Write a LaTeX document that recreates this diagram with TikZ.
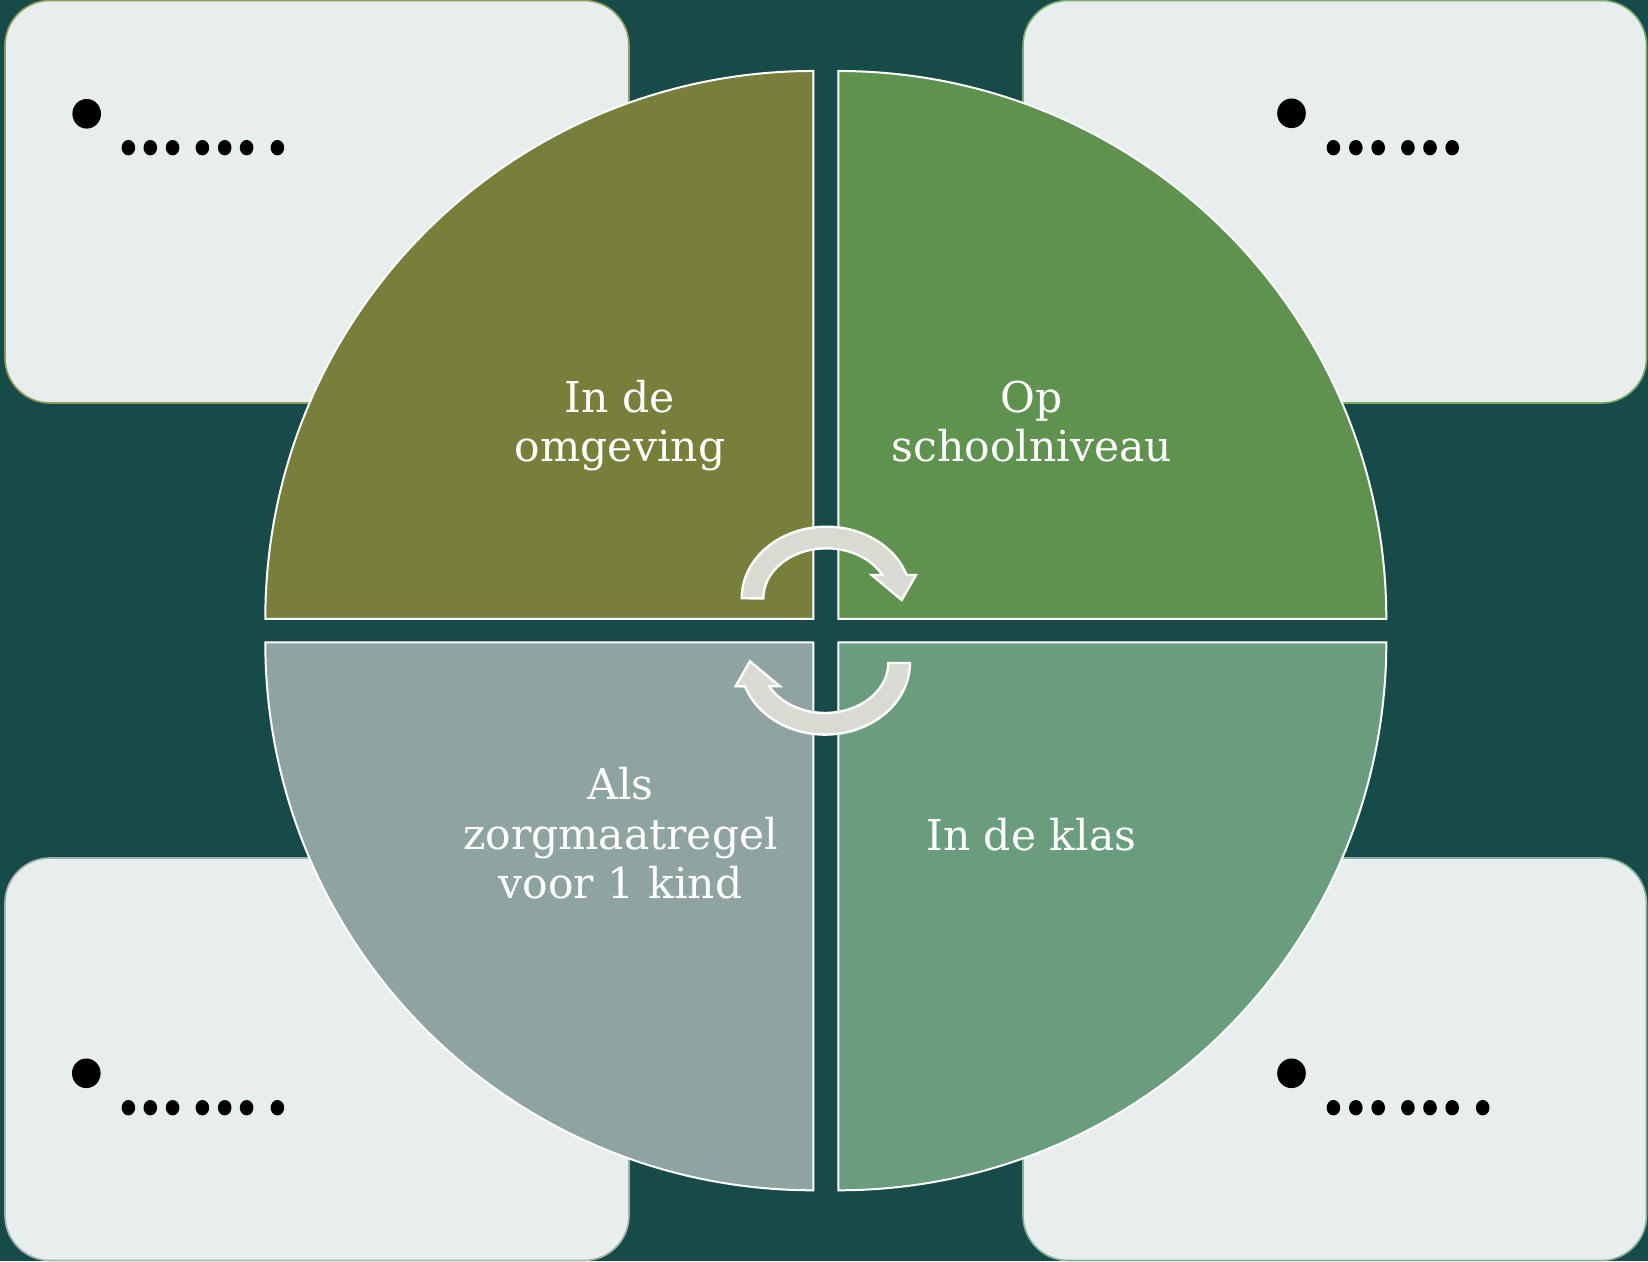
\documentclass[tikz,border=0pt]{standalone}
\usepackage{fontspec}
\setmainfont{DejaVu Serif}
\definecolor{bgteal}{HTML}{164B4A}
\definecolor{qolive}{HTML}{787F3A}
\definecolor{qgreen}{HTML}{5F914F}
\definecolor{qgray}{HTML}{8FA3A1}
\definecolor{qsage}{HTML}{6A9C7E}
\definecolor{boxfill}{HTML}{E8EDED}
\definecolor{arrowfill}{HTML}{D9DBD3}
\definecolor{bdolive}{HTML}{939A5A}
\definecolor{bdgreen}{HTML}{7FAA6E}
\definecolor{bdgray}{HTML}{A2B2B0}
\definecolor{bdsage}{HTML}{88B09A}
\tikzset{
  cardbox/.style={fill=boxfill, line width=1.6pt, rounded corners=45pt},
  quadrant/.style={draw=white, line width=2pt},
  cyclearrow/.style={fill=arrowfill, draw=white, line width=2.4pt, line join=miter},
  lbl/.style={text=white, align=center, inner sep=0pt, font=\fontsize{42.5}{49.5}\selectfont},
  bigdot/.style={fill=black},
  smalldot/.style={fill=black},
  pics/cycarrow/.style={code={
    \draw[cyclearrow] (-84.8,0) arc[start angle=180, end angle=19, x radius=84.8, y radius=71.6]
      -- (89.5,23.3) -- (75.2,-1.7) -- (45.2,23.3) -- (55.9,23.3)
      arc[start angle=27.8, end angle=180, x radius=63.2, y radius=50] -- cycle;
  }}
}
\begin{document}
\begin{tikzpicture}[x=1pt,y=1pt]
\useasboundingbox (0,0) rectangle (1648,1261);
\fill[bgteal] (0,0) rectangle (1648,1261);

% corner cards
\draw[cardbox, draw=bdolive] (5,858) rectangle (629,1260.5);
\draw[cardbox, draw=bdgreen] (1023,858) rectangle (1646.5,1260.5);
\draw[cardbox, draw=bdgray] (5,0.5) rectangle (629,403);
\draw[cardbox, draw=bdsage] (1023,0.5) rectangle (1646.5,403);

% dots in cards
\fill[bigdot] (86.7,1147.2) ellipse [x radius=14.3, y radius=14.8];
\foreach \x in {128.4,150.3,172.6,202.4,224.7,246.6,277.4}
  \fill[smalldot] (\x,1113.3) ellipse [x radius=6.8, y radius=7.7];
\fill[bigdot] (1291.5,1147.7) ellipse [x radius=14.3, y radius=14.8];
\foreach \x in {1333.4,1355.8,1378.2,1407.9,1430,1452.2}
  \fill[smalldot] (\x,1113.3) ellipse [x radius=6.8, y radius=7.7];
\fill[bigdot] (86.3,187.7) ellipse [x radius=14.3, y radius=14.8];
\foreach \x in {128.4,150.3,172.6,202.4,224.7,246.6,277.4}
  \fill[smalldot] (\x,153.3) ellipse [x radius=6.8, y radius=7.7];
\fill[bigdot] (1291.5,187.7) ellipse [x radius=14.3, y radius=14.8];
\foreach \x in {1333.4,1355.8,1378.2,1407.9,1430,1452.2,1482.7}
  \fill[smalldot] (\x,153.3) ellipse [x radius=6.8, y radius=7.7];

% quadrants
\filldraw[quadrant, fill=qolive] (813.3,642) -- ++(-548,0) arc[start angle=180, end angle=90, radius=548] -- cycle;
\filldraw[quadrant, fill=qgreen] (838.3,642) -- ++(0,548) arc[start angle=90, end angle=0, radius=548] -- cycle;
\filldraw[quadrant, fill=qgray] (813.3,618.7) -- ++(0,-548) arc[start angle=270, end angle=180, radius=548] -- cycle;
\filldraw[quadrant, fill=qsage] (838.3,618.7) -- ++(548,0) arc[start angle=0, end angle=-90, radius=548] -- cycle;

% cycle arrows
\pic at (826.5,662.7) {cycarrow};
\pic[rotate=180] at (825.1,598.0) {cycarrow};

% labels (anchor base = last line baseline)
\node[lbl, anchor=base] (omg) at (620,799.3) {In de\\omgeving};
\node[lbl, anchor=base] (school) at (1032,799.3) {Op\\schoolniveau};
\node[lbl, anchor=base] (zorg) at (620.5,362) {Als\\zorgmaatregel\\voor 1 kind};
\node[lbl, anchor=base] (klas) at (1031.3,410) {In de klas};
\end{tikzpicture}
\end{document}
